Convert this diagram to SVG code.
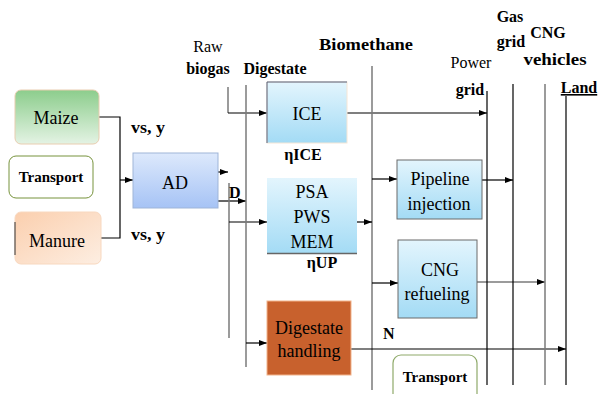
<svg xmlns="http://www.w3.org/2000/svg" width="601" height="394" viewBox="0 0 601 394">
<defs>
<linearGradient id="gGreen" x1="0" y1="0" x2="0" y2="1"><stop offset="0" stop-color="#8ccd8c"/><stop offset="1" stop-color="#e4f3e4"/></linearGradient>
<linearGradient id="gPeach" x1="0" y1="0" x2="1" y2="1"><stop offset="0" stop-color="#fbcfae"/><stop offset="1" stop-color="#fdeee2"/></linearGradient>
<linearGradient id="gAD" x1="0" y1="0" x2="0" y2="1"><stop offset="0" stop-color="#dde9fc"/><stop offset="1" stop-color="#a6c3f5"/></linearGradient>
<linearGradient id="gSky" x1="0" y1="0" x2="0" y2="1"><stop offset="0" stop-color="#e3f5fd"/><stop offset="1" stop-color="#a3dbf5"/></linearGradient>
<marker id="ah" markerUnits="userSpaceOnUse" markerWidth="8" markerHeight="6" refX="8" refY="3" orient="auto"><path d="M0,0 L8,3 L0,6 z" fill="#000"/></marker>
</defs>
<style>
.b{font-weight:bold;}
.lb{font-size:16px;}
.bx{font-size:18px;text-anchor:middle;}
.c{text-anchor:middle;}
.ln{fill:none;stroke:#000;stroke-width:1.2;}
.gl{fill:none;stroke:#7a7a7a;stroke-width:1.5;}
.ar{marker-end:url(#ah);}
</style>
<g id="connectors">
<path class="ln" d="M99,117 H120 V238 H101"/>
<path class="ln ar" d="M120,180 H133"/>
<path class="ln ar" d="M218,172 H228"/>
<path class="ln ar" d="M218,201 H246"/>
<path class="gl" d="M228,87 V113"/>
<path class="ln ar" d="M228,113 H267"/>
<path class="gl" d="M229,183 V338"/>
<path class="ln ar" d="M229,222 H267"/>
<path class="gl" d="M246,85 V367"/>
<path class="ln ar" d="M246,343 H267"/>
<path class="ln ar" d="M347,113 H487"/>
<path class="gl" d="M372,66 V390"/>
<path class="ln ar" d="M357,222 H372"/>
<path class="ln ar" d="M372,179 H397"/>
<path class="ln ar" d="M372,283 H398"/>
<path class="ln ar" d="M482,180 H513"/>
<path class="gl ar" d="M477,282 H545"/>
<path class="ln ar" d="M351,349 H566"/>
<path class="ln" d="M487,91 V385"/>
<path class="ln" d="M513,84 V385"/>
<path class="gl" d="M545,84 V385"/>
<path class="ln" d="M566,96 V385"/>
</g>
<g id="maize"><rect x="15" y="90" width="84" height="54" rx="6" fill="url(#gGreen)" stroke="#e9cdb0"/><text font-family="Liberation Serif" class="bx" x="56" y="124" font-size="19">Maize</text></g>
<g id="transport1"><rect x="9" y="156" width="84" height="42" rx="7" fill="#fff" stroke="#77933c"/><text font-family="Liberation Serif" class="b c" x="51" y="182" font-size="15">Transport</text></g>
<g id="manure"><rect x="15" y="212" width="86" height="52" rx="6" fill="url(#gPeach)" stroke="#f8d8bf"/><path d="M15,222 V255" stroke="#333" stroke-width="1"/><text font-family="Liberation Serif" class="bx" x="57" y="247" font-size="19">Manure</text></g>
<g id="vs1"><text font-family="Liberation Serif" class="b lb" x="131" y="133" textLength="34" lengthAdjust="spacingAndGlyphs">vs, y</text></g>
<g id="vs2"><text font-family="Liberation Serif" class="b lb" x="131" y="240" textLength="34" lengthAdjust="spacingAndGlyphs">vs, y</text></g>
<g id="ad"><rect x="133" y="153" width="85" height="55" fill="url(#gAD)" stroke="#9fb5d8"/><text font-family="Liberation Serif" class="bx" x="175" y="189">AD</text></g>
<g id="dlabel"><text font-family="Liberation Serif" class="b lb" x="229" y="198">D</text></g>
<g id="labels">
<text font-family="Liberation Serif" class="lb c" x="208" y="52">Raw</text>
<text font-family="Liberation Serif" class="lb b c" x="208" y="74">biogas</text>
<text font-family="Liberation Serif" class="lb b c" x="275" y="74">Digestate</text>
<text font-family="Liberation Serif" class="lb b c" x="366" y="50" textLength="94" lengthAdjust="spacingAndGlyphs">Biomethane</text>
<text font-family="Liberation Serif" class="lb c" x="471" y="68">Power</text>
<text font-family="Liberation Serif" class="lb b c" x="470" y="95">grid</text>
<text font-family="Liberation Serif" class="lb b c" x="510" y="22">Gas</text>
<text font-family="Liberation Serif" class="lb b c" x="511" y="47">grid</text>
<text font-family="Liberation Serif" class="lb b c" x="548" y="38">CNG</text>
<text font-family="Liberation Serif" class="lb b c" x="555" y="65" textLength="63" lengthAdjust="spacingAndGlyphs">vehicles</text>
<text font-family="Liberation Serif" class="lb b c" x="579" y="93" text-decoration="underline">Land</text>
</g>
<g id="ice"><rect x="267" y="82" width="80" height="61" fill="url(#gSky)" stroke="#f5e6d6"/><path d="M267,143 V82 H347" fill="none" stroke="#55607a" stroke-width="1"/><text font-family="Liberation Serif" class="bx" x="307" y="120" font-size="19">ICE</text></g>
<g id="etaice"><text font-family="Liberation Serif" class="b lb c" x="303" y="160">ηICE</text></g>
<g id="upgrading"><rect x="267" y="178" width="90" height="76" fill="url(#gSky)"/><path d="M267,253.5 H357" stroke="#666" stroke-width="1.5"/><text font-family="Liberation Serif" class="bx" x="312" y="198">PSA</text><text font-family="Liberation Serif" class="bx" x="312" y="223">PWS</text><text font-family="Liberation Serif" class="bx" x="312" y="248">MEM</text></g>
<g id="etaup"><text font-family="Liberation Serif" class="b lb c" x="322" y="268">ηUP</text></g>
<g id="pipeline"><rect x="397" y="160" width="85" height="59" fill="url(#gSky)" stroke="#6a6a6a"/><text font-family="Liberation Serif" class="bx" x="440" y="185">Pipeline</text><text font-family="Liberation Serif" class="bx" x="439" y="210">injection</text></g>
<g id="cng"><rect x="398" y="240" width="79" height="78" fill="url(#gSky)" stroke="#6a6a6a"/><text font-family="Liberation Serif" class="bx" x="440" y="276">CNG</text><text font-family="Liberation Serif" class="bx" x="437" y="300" font-size="17">refueling</text></g>
<g id="digestate"><rect x="267" y="301" width="84" height="74" fill="#c8612d" stroke="#f2b48c"/><text font-family="Liberation Serif" class="bx" x="309" y="334" font-size="17">Digestate</text><text font-family="Liberation Serif" class="bx" x="309" y="357" font-size="17">handling</text></g>
<g id="nlabel"><text font-family="Liberation Serif" class="b lb" x="383" y="339">N</text></g>
<g id="transport2"><rect x="393" y="355" width="84" height="50" rx="8" fill="#fff" stroke="#8faa6a" stroke-width="1.2"/><text font-family="Liberation Serif" class="b c" x="435" y="382" font-size="15">Transport</text></g>
</svg>
